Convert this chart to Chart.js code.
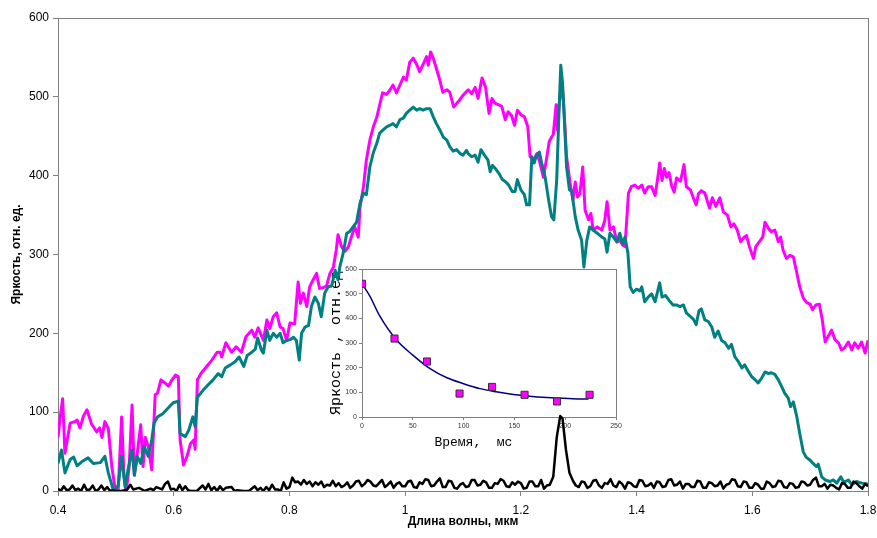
<!DOCTYPE html>
<html>
<head>
<meta charset="utf-8">
<script src="https://cdn.jsdelivr.net/npm/chart.js@4.4.1/dist/chart.umd.min.js"></script>
<style>
  html, body { margin: 0; padding: 0; background: #fff; }
  #wrap { position: relative; width: 877px; height: 538px; }
  #inset { position: absolute; left: 318px; top: 260px; width: 305px; height: 195px; }
  #main { position: absolute; left: 0; top: 0; width: 877px; height: 538px; }
</style>
</head>
<body>
<div id="wrap">
  <div id="inset"><canvas id="insetChart"></canvas></div>
  <div id="main"><canvas id="mainChart"></canvas></div>
</div>
<script>
// данные (длина волны, мкм / яркость, отн. ед.)
const magentaWave = [
  0.400,0.404,0.408,0.412,0.416,0.421,0.429,0.433,0.438,0.444,0.450,0.458,0.467,0.472,0.476,0.481,0.487,0.493,0.499,0.504,
  0.510,0.514,0.518,0.523,0.528,0.532,0.537,0.543,0.547,0.551,0.556,0.562,0.568,0.572,0.578,0.585,0.591,0.597,0.603,0.608,
  0.611,0.617,0.623,0.629,0.635,0.637,0.641,0.648,0.657,0.666,0.675,0.680,0.683,0.690,0.700,0.708,0.717,0.725,0.735,0.740,0.746,
  0.755,0.761,0.766,0.772,0.778,0.784,0.789,0.795,0.801,0.809,0.815,0.819,0.824,0.830,0.835,0.841,0.847,0.852,0.858,0.864,
  0.870,0.876,0.881,0.884,0.890,0.896,0.902,0.907,0.913,0.919,0.922,0.928,0.933,0.939,0.945,0.951,0.956,0.961,0.968,0.974,
  0.979,0.985,0.991,0.997,1.002,1.008,1.014,1.020,1.025,1.031,1.037,1.040,1.044,1.049,1.054,1.060,1.065,1.072,1.077,1.084,
  1.092,1.100,1.109,
  1.115,1.121,1.126,1.133,1.139,1.145,1.150,1.155,1.161,1.167,1.173,1.178,1.184,1.189,1.194,1.200,1.206,1.212,1.216,1.222,
  1.228,1.233,1.239,1.245,1.249,1.253,1.256,1.261,1.263,1.266,1.271,1.274,1.279,1.285,1.290,1.294,1.298,1.302,1.307,1.311,
  1.317,1.321,1.325,1.332,1.340,1.345,1.349,1.354,1.360,1.366,1.371,1.376,1.380,
  1.386,1.391,1.397,1.403,1.409,1.414,1.420,1.426,1.432,1.436,1.440,1.444,1.448,1.452,1.456,1.461,1.465,1.469,1.476,1.482,
  1.486,1.493,1.498,1.503,1.507,1.512,1.518,1.526,1.531,1.537,1.544,1.550,1.557,1.563,1.568,1.574,1.580,1.586,1.590,1.595,
  1.602,1.606,1.612,1.618,1.622,1.628,1.633,1.639,1.645,1.649,1.653,1.659,1.665,1.671,1.676,1.682,1.688,1.694,1.700,1.704,
  1.710,1.716,1.721,1.726,1.731,1.737,1.743,1.749,1.754,1.760,1.766,1.772,1.777,1.783,1.789,1.795,1.800
];
const magentaVal = [
  68,95,117,48,65,86,88,90,80,95,103,85,75,80,68,88,79,31,1,0,
  94,20,0,31,109,20,48,84,31,68,56,27,122,124,141,137,133,141,147,145,
  65,33,44,60,65,53,141,150,158,166,176,176,170,188,176,183,176,196,204,195,207,
  191,217,206,221,226,208,206,191,213,212,265,238,251,234,259,268,276,257,258,260,
  276,284,306,325,310,304,310,322,335,322,360,386,420,445,462,474,490,505,503,509,
  515,505,515,525,521,544,549,541,532,541,551,540,557,548,536,521,506,509,506,487,
  494,502,509,
  504,512,498,524,512,479,498,492,490,488,471,481,476,464,483,477,475,462,424,420,
  428,416,398,424,443,449,452,490,458,488,519,491,424,391,369,392,373,377,411,356,
  344,352,331,335,331,343,367,331,335,316,318,312,310,
  378,386,388,384,388,378,386,386,375,394,416,394,409,398,404,386,379,397,393,414,
  386,382,372,363,377,381,378,359,372,361,372,354,350,335,339,331,316,322,324,310,
  295,310,316,322,341,333,329,331,316,322,306,295,299,297,280,259,245,239,237,230,
  236,237,217,189,196,204,192,188,179,182,189,179,188,181,189,175,191
];

const tealWave = [
  0.400,0.406,0.412,0.421,0.427,0.433,0.441,0.452,0.461,0.473,0.481,0.487,0.496,0.504,0.510,0.516,0.521,0.528,0.532,0.537,
  0.543,0.549,0.556,0.562,0.566,0.572,0.581,0.590,0.599,0.608,0.611,0.620,0.626,0.633,0.637,0.641,0.651,0.660,0.668,0.677,
  0.683,0.689,0.698,0.706,0.713,0.721,0.727,0.735,0.741,0.745,0.752,
  0.755,0.761,0.766,0.772,0.778,0.784,0.789,0.795,0.801,0.807,0.812,0.817,0.821,0.827,0.833,0.838,0.844,0.850,0.855,0.861,
  0.867,0.873,0.879,0.884,0.887,0.893,0.899,0.904,0.910,0.916,0.922,0.928,0.933,0.939,0.945,0.951,0.956,0.962,0.968,0.974,
  0.979,0.985,0.991,0.997,1.002,1.008,1.014,1.020,1.025,1.031,1.037,1.043,1.049,1.054,1.060,1.066,1.072,1.077,1.083,1.089,
  1.095,1.100,1.106,
  1.109,1.115,1.121,1.126,1.131,1.137,1.143,1.147,1.151,1.156,1.162,1.168,1.174,1.179,1.185,1.190,1.194,1.200,1.206,1.210,
  1.215,1.219,1.223,1.227,1.232,1.236,1.242,1.248,1.253,1.257,1.262,1.266,1.269,1.272,1.275,1.279,1.284,1.288,1.294,1.299,
  1.305,1.309,1.314,1.319,1.325,1.332,1.340,1.345,1.349,1.354,1.360,1.366,1.371,1.376,1.380,
  1.385,1.389,1.394,1.400,1.406,1.409,1.414,1.420,1.426,1.432,1.440,1.444,1.450,1.456,1.463,1.469,1.475,1.481,1.486,1.492,
  1.498,1.503,1.508,1.512,1.518,1.524,1.530,1.535,1.541,1.547,1.553,1.559,1.564,1.570,1.576,1.582,1.587,1.593,1.599,1.605,
  1.610,1.616,1.622,1.628,1.633,1.639,1.645,1.651,1.656,1.662,1.666,1.671,1.677,1.682,1.688,1.693,1.700,1.705,1.711,
  1.714,1.720,1.726,1.734,1.740,1.746,1.753,1.758,1.766,1.772,1.780,1.789,1.800
];
const tealVal = [
  35,52,23,40,43,32,37,42,35,36,44,23,0,7,44,5,27,52,20,44,
  35,56,44,65,86,94,98,105,112,114,73,69,77,94,82,119,128,135,141,149,
  145,156,160,164,170,158,172,176,180,194,178,
  175,204,191,200,195,200,188,191,192,195,191,166,200,208,210,234,246,238,221,251,
  259,260,280,268,284,302,327,329,335,341,365,378,376,411,429,441,454,458,462,464,
  466,462,471,473,479,483,487,483,485,483,485,485,474,466,458,449,445,437,431,433,
  428,426,432,
  428,424,426,417,433,426,420,405,413,409,403,395,392,388,380,380,395,382,376,363,
  363,424,416,426,430,416,398,369,348,344,395,483,540,518,474,411,382,380,348,331,
  318,284,318,335,331,327,322,320,303,327,322,316,327,313,322,
  302,259,252,256,254,259,240,246,250,240,264,246,248,242,236,236,234,236,226,222,
  218,211,229,231,217,215,208,195,203,191,188,181,186,170,164,156,160,152,145,141,
  137,143,151,149,150,148,141,132,124,118,107,113,94,73,50,43,39,35,31,
  34,18,14,12,14,10,18,11,14,8,12,10,9
];

// чёрная кривая: шум у нуля и пик около 1.27 мкм
const blackWave = [
  0.400,0.405,0.410,0.415,0.420,0.425,0.430,0.435,0.440,0.445,0.450,0.455,0.460,0.465,0.470,0.475,0.480,0.485,0.490,0.495,
  0.50,0.51,0.52,0.525,0.53,0.54,0.55,0.56,0.565,0.57,0.58,0.585,0.59,0.595,
  0.60,0.605,0.61,0.615,0.62,0.625,0.63,0.64,0.65,0.655,0.66,0.665,0.67,0.675,0.68,0.685,0.69,
  0.70,0.705,0.71,0.72,0.73,0.74,0.745,0.75,0.755,0.76,0.765,0.77,0.775,0.78,0.785,0.79,0.795,
  0.800,0.805,0.810,0.815,0.820,0.825,0.830,0.835,0.840,0.845,0.850,0.855,0.860,0.865,0.870,0.875,0.880,0.885,0.890,0.895,
  0.900,0.905,0.910,0.915,0.920,0.925,0.930,0.935,0.940,0.945,0.950,0.955,0.960,0.965,0.970,0.975,0.980,0.985,0.990,0.995,
  1.000,1.005,1.010,1.015,1.020,1.025,1.030,1.035,1.040,1.045,1.050,1.055,1.060,1.065,1.070,1.075,1.080,1.085,1.090,1.095,
  1.100,1.105,1.110,1.115,1.120,1.125,1.130,1.135,1.140,1.145,1.150,1.155,1.160,1.165,1.170,1.175,1.180,1.185,1.190,1.195,
  1.200,1.205,1.210,1.215,1.220,1.225,1.230,1.235,1.240,1.245,1.250,
  1.256,1.262,1.268,1.272,1.278,1.284,1.290,1.295,
  1.300,1.305,1.310,1.315,1.320,1.325,1.330,1.335,1.340,1.345,1.350,1.355,1.360,1.365,1.370,1.375,1.380,1.385,1.390,1.395,
  1.400,1.405,1.410,1.415,1.420,1.425,1.430,1.435,1.440,1.445,1.450,1.455,1.460,1.465,1.470,1.475,1.480,1.485,1.490,1.495,
  1.500,1.505,1.510,1.515,1.520,1.525,1.530,1.535,1.540,1.545,1.550,1.555,1.560,1.565,1.570,1.575,1.580,1.585,1.590,1.595,
  1.600,1.605,1.610,1.615,1.620,1.625,1.630,1.635,1.640,1.645,1.650,1.655,1.660,1.665,1.670,1.675,1.680,1.685,1.690,1.695,
  1.700,1.705,1.710,1.715,1.720,1.725,1.730,1.735,1.740,1.745,1.750,1.755,1.760,1.765,1.770,1.775,1.780,1.785,1.790,1.795,1.800
];
const blackVal = [
  3,0,6,1,2,7,1,3,0,8,1,2,7,0,2,7,1,5,0,1,
  0,0,2,8,2,4,0,3,1,5,2,9,12,2,
  3,0,8,1,6,1,0,0,7,2,9,1,5,0,6,1,4,
  5,0,1,0,0,6,1,4,0,5,1,8,2,2,0,11,3,
  5,17,11,12,8,14,9,12,6,11,8,12,5,8,7,13,6,10,5,7,
  11,4,7,12,13,6,9,14,12,7,6,10,14,5,8,12,4,9,11,6,
  6,12,13,5,4,11,9,15,14,6,7,12,16,5,5,13,12,4,3,8,
  10,5,6,14,14,7,8,13,11,4,4,10,9,15,13,6,5,11,8,12,
  10,3,4,12,12,6,6,14,3,7,8,
  18,68,95,92,52,23,13,7,
  5,12,11,4,6,13,14,7,4,10,9,15,7,5,12,9,3,11,10,6,
  5,14,13,6,7,10,4,12,11,5,6,14,15,7,8,12,3,9,9,5,
  5,13,12,4,4,11,10,6,7,12,3,8,9,15,14,6,5,12,11,4,
  4,10,8,3,3,12,10,5,6,13,12,5,4,10,9,4,5,12,11,7,
  8,14,17,6,6,9,3,8,7,4,2,10,9,4,4,12,10,6,3,9,6
];

const xTicks = [0.4, 0.6, 0.8, 1.0, 1.2, 1.4, 1.6, 1.8];
const xTickLabels = ['0.4', '0.6', '0.8', '1', '1.2', '1.4', '1.6', '1.8'];

// вставка: затухание яркости
const decayTime = [0, 32, 64, 96, 128, 160, 192, 224];
const decayVal = [540, 318, 225, 95, 122, 90, 63, 90];
const fitTime = [0, 8, 17, 34, 50, 67, 83, 100, 116, 132, 149, 165, 182, 198, 215, 223];
const fitVal = [540, 488, 413, 312, 251, 196, 160, 135, 115, 102, 91, 84, 79, 76, 73, 73];

function toPoints(xs, ys) {
  if (xs.length !== ys.length) throw new Error('length mismatch ' + xs.length + ' ' + ys.length);
  return xs.map((x, i) => ({ x: x, y: ys[i] }));
}

Chart.defaults.font.family = 'Liberation Sans';
Chart.defaults.color = '#000';

const boxPlugin = {
  id: 'box',
  beforeDatasetsDraw(chart) {
    const a = chart.chartArea;
    const ctx = chart.ctx;
    ctx.save();
    ctx.strokeStyle = '#808080';
    ctx.lineWidth = 1;
    ctx.strokeRect(Math.round(a.left) + 0.5, Math.round(a.top) + 0.5,
      Math.round(a.right - a.left), Math.round(a.bottom - a.top));
    ctx.restore();
  }
};

// убираю автоматические отступы под подписи, чтобы область графика была где надо
function fixX(h) {
  return s => { s.height = h; s.paddingLeft = 0; s.paddingRight = 0; };
}
function fixY(w) {
  return s => { s.width = w; s.paddingTop = 0; s.paddingBottom = 0; };
}

new Chart(document.getElementById('mainChart'), {
  type: 'line',
  data: {
    datasets: [
      { data: toPoints(blackWave, blackVal), borderColor: '#000000', borderWidth: 2.5 },
      { data: toPoints(tealWave, tealVal), borderColor: '#008080', borderWidth: 3 },
      { data: toPoints(magentaWave, magentaVal), borderColor: '#ff00ff', borderWidth: 3 }
    ]
  },
  options: {
    responsive: true,
    maintainAspectRatio: false,
    animation: false,
    elements: { point: { radius: 0 }, line: { tension: 0, borderJoinStyle: 'round' } },
    layout: { padding: { top: 18, right: 9, left: 0, bottom: 9 } },
    plugins: { legend: { display: false }, tooltip: { enabled: false } },
    scales: {
      x: {
        type: 'linear', min: 0.4, max: 1.8,
        afterBuildTicks: s => { s.ticks = xTicks.map(v => ({ value: v })); },
        afterFit: fixX(38),
        grid: { drawOnChartArea: false, tickLength: 5, color: '#808080' },
        border: { display: false },
        ticks: { callback: (v, i) => xTickLabels[i], font: { size: 12 }, padding: 7, maxRotation: 0 },
        title: { display: true, text: 'Длина волны, мкм', font: { size: 12, weight: 'bold' }, padding: { top: 1, bottom: 0 } }
      },
      y: {
        min: 0, max: 600,
        ticks: { stepSize: 100, font: { size: 12 }, padding: 4 },
        afterFit: fixY(58),
        grid: { drawOnChartArea: false, tickLength: 5, color: '#808080' },
        border: { display: false },
        title: { display: true, text: 'Яркость, отн. ед.', font: { size: 12, weight: 'bold' }, padding: { top: 9, bottom: 0 } }
      }
    }
  },
  plugins: [boxPlugin]
});

new Chart(document.getElementById('insetChart'), {
  type: 'scatter',
  data: {
    datasets: [
      { type: 'scatter', data: toPoints(decayTime, decayVal), pointStyle: 'rect', pointRadius: 5,
        backgroundColor: '#ff00ff', borderColor: '#333333', borderWidth: 1 },
      { type: 'line', data: toPoints(fitTime, fitVal), borderColor: '#000080', borderWidth: 1.5,
        pointRadius: 0, cubicInterpolationMode: 'monotone' }
    ]
  },
  options: {
    responsive: true,
    maintainAspectRatio: false,
    animation: false,
    layout: { padding: { top: 9, right: 7, left: 0, bottom: 5 } },
    plugins: { legend: { display: false }, tooltip: { enabled: false } },
    scales: {
      x: {
        type: 'linear', min: 0, max: 250,
        ticks: { stepSize: 50, font: { size: 7 }, color: '#333', padding: 2, maxRotation: 0 },
        afterFit: fixX(33),
        grid: { drawOnChartArea: false, tickLength: 3, color: '#808080' },
        border: { display: false },
        title: { display: true, text: 'Время,  мс    ', font: { family: 'Liberation Mono', size: 13 }, padding: { top: 4, bottom: 0 } }
      },
      y: {
        min: 0, max: 600,
        ticks: { stepSize: 100, font: { size: 7 }, color: '#333', padding: 2 },
        afterFit: fixY(44),
        grid: { drawOnChartArea: false, tickLength: 3, color: '#808080' },
        border: { display: false },
        title: { display: true, text: 'Яркость , отн.ед', font: { family: 'Liberation Mono', size: 15 }, padding: { top: 9, bottom: 0 } }
      }
    }
  },
  plugins: [boxPlugin]
});
</script>
</body>
</html>
